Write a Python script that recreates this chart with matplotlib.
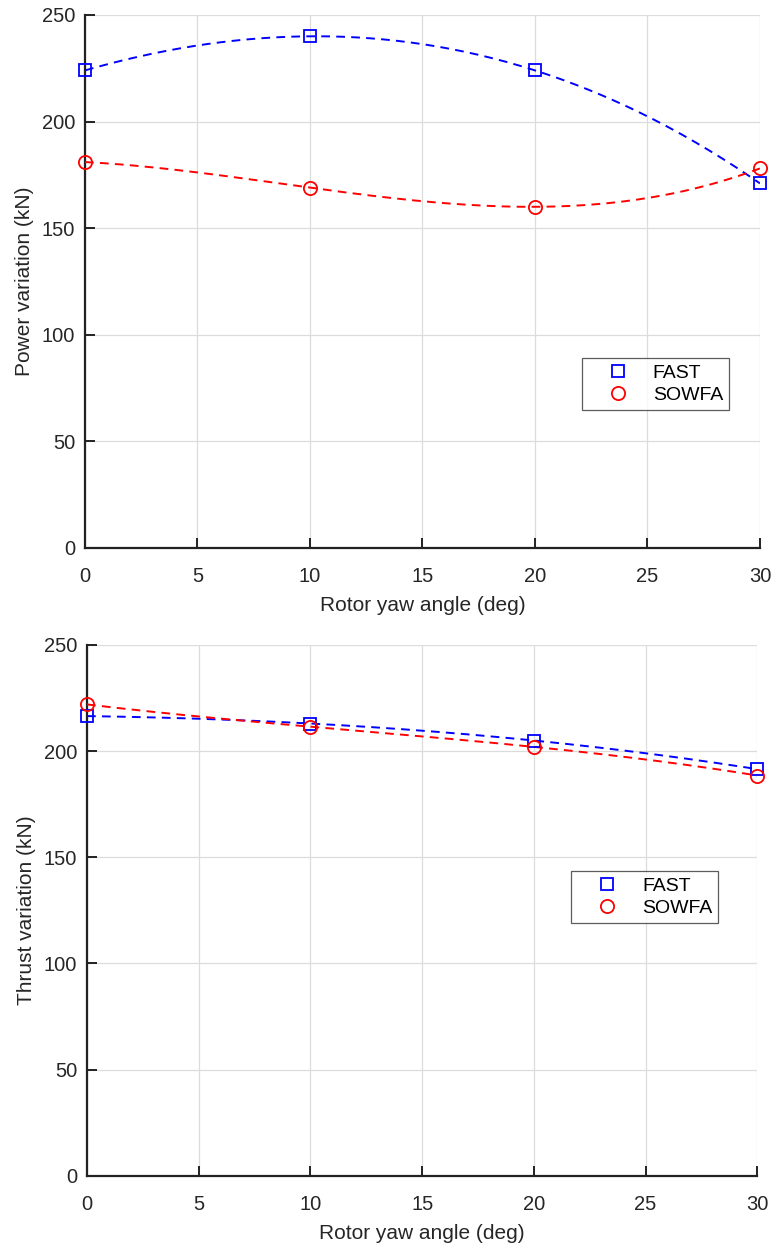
import numpy as np
import matplotlib
matplotlib.use("Agg")
import matplotlib.pyplot as plt

plt.rcParams["font.family"] = ["Liberation Sans", "DejaVu Sans"]

# Data
yaw = [0, 10, 20, 30]
power_fast = [224, 240, 224, 171]
power_sowfa = [181, 169, 160, 178]
thrust_fast = [216.5, 213, 205, 191.5]
thrust_sowfa = [222, 211.5, 202, 188.5]

xticks = [0, 5, 10, 15, 20, 25, 30]
yticks = [0, 50, 100, 150, 200, 250]


def draw_panel(ax, fast, sowfa, ylabel, leg_anchor):
    xs = np.linspace(yaw[0], yaw[-1], 200)
    # smooth curve through the four points (cubic, as in the source figure)
    for vals, col in [(fast, "#0000ff"), (sowfa, "#ff0000")]:
        coef = np.polyfit(yaw, vals, 3)
        ax.plot(xs, np.polyval(coef, xs), color=col, lw=1.4, ls=(0, (4.5, 3.2)), zorder=3)
    ax.plot(yaw, fast, ls="none", marker="s", ms=8, mfc="none", mec="#0000ff",
            mew=1.3, label="FAST", zorder=4, clip_on=False)
    ax.plot(yaw, sowfa, ls="none", marker="o", ms=9.5, mfc="none", mec="#ff0000",
            mew=1.3, label="SOWFA", zorder=4, clip_on=False)

    ax.set_xlim(0, 30)
    ax.set_ylim(0, 250)
    ax.set_xticks(xticks)
    ax.set_yticks(yticks)
    ax.grid(True, color="#dcdcdc", lw=0.9)
    ax.set_axisbelow(True)
    for s in ["top", "right"]:
        ax.spines[s].set_visible(False)
    for s in ["left", "bottom"]:
        ax.spines[s].set_color("#222222")
        ax.spines[s].set_linewidth(1.6)
    ax.tick_params(direction="in", length=7, width=1.4, color="#222222",
                   labelsize=14.5, labelcolor="#262626")
    ax.tick_params(axis="x", pad=14)
    ax.tick_params(axis="y", pad=7)
    ax.set_xlabel("Rotor yaw angle (deg)", fontsize=15, color="#262626", labelpad=7)
    ax.set_ylabel(ylabel, fontsize=15, color="#262626", labelpad=6)

    leg = ax.legend(loc="upper left", bbox_to_anchor=leg_anchor, borderaxespad=0,
                    fontsize=14, frameon=True, fancybox=False, handletextpad=0.25,
                    handlelength=3.1, borderpad=0.3, labelspacing=0.25)
    leg.get_frame().set_edgecolor("#333333")
    leg.get_frame().set_linewidth(0.9)


fig = plt.figure(figsize=(7.74, 12.48), dpi=100)
ax1 = fig.add_axes([0.1098, 0.561, 0.872, 0.427])
ax2 = fig.add_axes([0.1124, 0.0579, 0.866, 0.4253])

draw_panel(ax1, power_fast, power_sowfa, "Power variation (kN)", (0.736, 0.356))
draw_panel(ax2, thrust_fast, thrust_sowfa, "Thrust variation (kN)", (0.722, 0.574))

fig.savefig("out.png", dpi=100)
